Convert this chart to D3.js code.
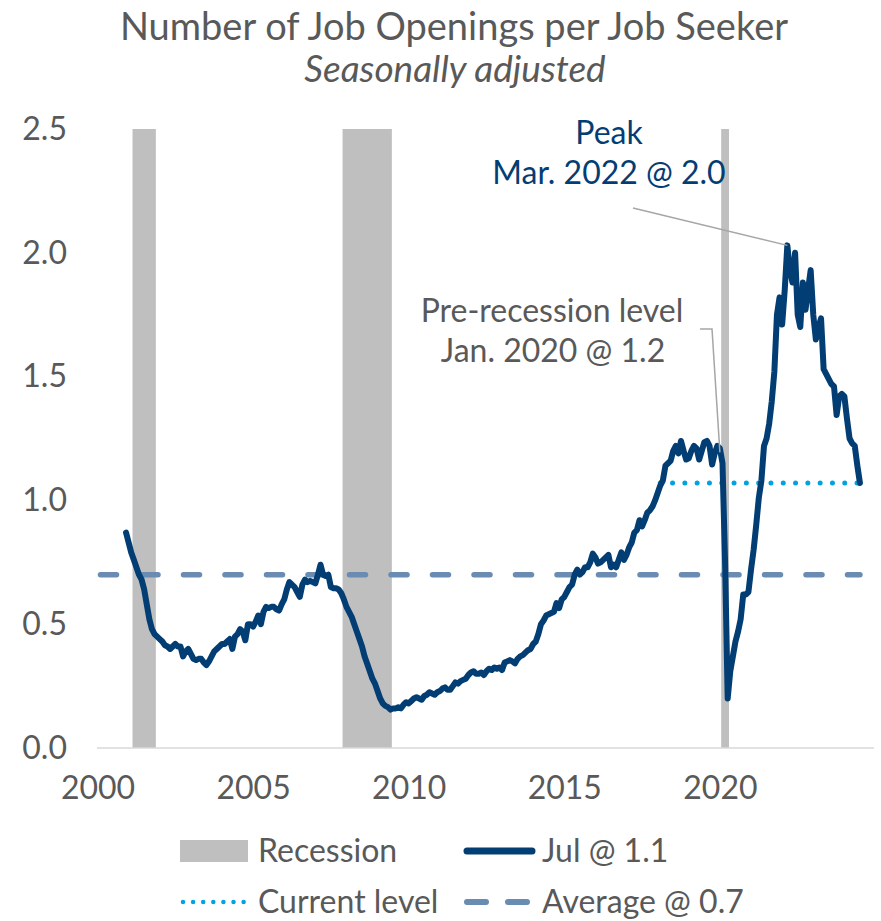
<!DOCTYPE html>
<html>
<head>
<meta charset="utf-8">
<script src="https://cdn.jsdelivr.net/npm/d3@7"></script>
<style>
  html, body { margin: 0; padding: 0; background: #ffffff; }
  svg { display: block; font-family: Lato, "Open Sans", sans-serif; }
</style>
</head>
<body>
<svg id="chart" width="881" height="921"></svg>
<script>
// Job openings per unemployed job seeker, monthly, seasonally adjusted.
const seriesStart = { year: 2000, month: 12 };
const ratio = [
  0.87,
  0.83, 0.79, 0.76, 0.73, 0.70, 0.68, 0.64, 0.58, 0.52, 0.48, 0.46, 0.45,          // 2001
  0.44, 0.43, 0.415, 0.41, 0.40, 0.41, 0.42, 0.41, 0.41, 0.37, 0.39, 0.40,        // 2002
  0.38, 0.36, 0.355, 0.36, 0.36, 0.345, 0.335, 0.35, 0.37, 0.39, 0.40, 0.41,      // 2003
  0.42, 0.42, 0.43, 0.44, 0.40, 0.45, 0.46, 0.48, 0.47, 0.435, 0.50, 0.50,        // 2004
  0.49, 0.51, 0.535, 0.50, 0.55, 0.57, 0.565, 0.57, 0.57, 0.56, 0.555, 0.58,      // 2005
  0.60, 0.64, 0.67, 0.66, 0.65, 0.63, 0.61, 0.66, 0.68, 0.67, 0.675, 0.67,        // 2006
  0.665, 0.70, 0.74, 0.70, 0.695, 0.70, 0.65, 0.645, 0.645, 0.64, 0.625, 0.60,    // 2007
  0.57, 0.55, 0.53, 0.50, 0.47, 0.44, 0.41, 0.37, 0.34, 0.31, 0.28, 0.26,         // 2008
  0.23, 0.20, 0.18, 0.17, 0.165, 0.155, 0.16, 0.16, 0.165, 0.16, 0.175, 0.185,    // 2009
  0.18, 0.19, 0.20, 0.205, 0.20, 0.195, 0.21, 0.215, 0.225, 0.22, 0.215, 0.225,   // 2010
  0.23, 0.24, 0.245, 0.235, 0.235, 0.25, 0.265, 0.26, 0.27, 0.275, 0.28, 0.295,   // 2011
  0.305, 0.31, 0.30, 0.30, 0.305, 0.295, 0.31, 0.32, 0.315, 0.325, 0.32, 0.325,   // 2012
  0.315, 0.345, 0.35, 0.355, 0.35, 0.342, 0.36, 0.37, 0.375, 0.385, 0.395, 0.40,  // 2013
  0.42, 0.43, 0.46, 0.50, 0.515, 0.535, 0.54, 0.545, 0.55, 0.585, 0.565, 0.60,    // 2014
  0.61, 0.63, 0.65, 0.66, 0.70, 0.72, 0.70, 0.71, 0.73, 0.73, 0.75, 0.785,        // 2015
  0.77, 0.745, 0.75, 0.76, 0.77, 0.78, 0.73, 0.74, 0.73, 0.76, 0.79, 0.76,        // 2016
  0.78, 0.81, 0.83, 0.87, 0.88, 0.92, 0.895, 0.92, 0.95, 0.96, 0.975, 1.00,       // 2017
  1.03, 1.06, 1.08, 1.14, 1.15, 1.16, 1.20, 1.22, 1.19, 1.24, 1.20, 1.165,        // 2018
  1.17, 1.20, 1.22, 1.21, 1.165, 1.20, 1.235, 1.24, 1.22, 1.145, 1.19, 1.22,      // 2019
  1.21, 1.15, 0.75, 0.20, 0.31, 0.37, 0.43, 0.47, 0.52, 0.62, 0.62, 0.63,         // 2020
  0.72, 0.80, 0.90, 1.01, 1.08, 1.22, 1.25, 1.31, 1.40, 1.52, 1.75, 1.82,         // 2021
  1.71, 1.85, 2.03, 1.93, 1.88, 2.00, 1.75, 1.70, 1.88, 1.77, 1.85, 1.93,         // 2022
  1.75, 1.65, 1.70, 1.735, 1.53, 1.51, 1.49, 1.47, 1.46, 1.345, 1.42, 1.43,       // 2023
  1.42, 1.33, 1.25, 1.23, 1.22, 1.14, 1.07                                         // 2024
];

// NBER recessions (first and last month)
const recessions = [
  { from: [2001, 3], to: [2001, 11] },
  { from: [2007, 12], to: [2009, 6] },
  { from: [2020, 2], to: [2020, 4] }
];

const averageLevel = 0.7;
const currentLevel = 1.07;
const currentLevelFrom = [2018, 2];

const xTicks = [2000, 2005, 2010, 2015, 2020];
const yTicks = [0, 0.5, 1.0, 1.5, 2.0, 2.5];

const peakPoint = { year: 2022, month: 3, value: 2.03 };
const preRecessionPoint = { year: 2020, month: 1, value: 1.21 };

const legendItems = ["Recession", "Jul @ 1.1", "Current level", "Average @ 0.7"];

// ---------------------------------------------------------------
const C = {
  navy: "#023e73",
  cyan: "#00a3e0",
  avg: "#6a8cb2",
  rec: "#bfbfbf",
  text: "#595959",
  axis: "#d9d9d9",
  leader: "#a6a6a6"
};
const FS = 32;

const toT = (y, m) => y + (m - 1) / 12;
const data = ratio.map((v, i) => {
  const idx = (seriesStart.month - 1) + i;
  const y = seriesStart.year + Math.floor(idx / 12);
  const m = (idx % 12) + 1;
  return { t: toT(y, m), v };
});

const svg = d3.select("#chart");

const x = d3.scaleLinear().domain([2000, 2025]).range([97.5, 875.5]);
const y = d3.scaleLinear().domain([0, 2.5]).range([748, 129]);
const halfMonth = (x(2001) - x(2000)) / 24;

// recession shading
svg.append("g").selectAll("rect").data(recessions).join("rect")
  .attr("x", d => x(toT(...d.from)) - halfMonth)
  .attr("width", d => x(toT(...d.to)) - x(toT(...d.from)) + 2 * halfMonth)
  .attr("y", y(2.5))
  .attr("height", y(0) - y(2.5))
  .attr("fill", C.rec);

// baseline
svg.append("line")
  .attr("x1", 97).attr("x2", 874)
  .attr("y1", y(0)).attr("y2", y(0))
  .attr("stroke", C.axis).attr("stroke-width", 1.5);

// y axis
const yAxis = svg.append("g")
  .attr("transform", `translate(97,0)`)
  .call(d3.axisLeft(y).tickValues(yTicks).tickFormat(d3.format(".1f")).tickSize(0).tickPadding(30));
yAxis.select(".domain").remove();
yAxis.selectAll("text")
  .attr("fill", C.text).attr("font-size", FS).attr("font-family", "Lato, sans-serif");

// x axis
const xAxis = svg.append("g")
  .attr("transform", `translate(0,${y(0)})`)
  .call(d3.axisBottom(x).tickValues(xTicks).tickFormat(d3.format("d")).tickSize(0).tickPadding(28));
xAxis.select(".domain").remove();
xAxis.selectAll("text")
  .attr("fill", C.text).attr("font-size", FS).attr("font-family", "Lato, sans-serif");

// average level
const lastT = data[data.length - 1].t;
svg.append("line")
  .attr("x1", x(2000) + 3).attr("x2", x(lastT))
  .attr("y1", y(averageLevel)).attr("y2", y(averageLevel))
  .attr("stroke", C.avg).attr("stroke-width", 5.5)
  .attr("stroke-linecap", "round")
  .attr("stroke-dasharray", "16 25.5");

// current level
svg.append("line")
  .attr("x1", x(toT(...currentLevelFrom))).attr("x2", x(lastT))
  .attr("y1", y(currentLevel)).attr("y2", y(currentLevel))
  .attr("stroke", C.cyan).attr("stroke-width", 5)
  .attr("stroke-linecap", "round")
  .attr("stroke-dasharray", "0 12.3");

// main series
svg.append("path")
  .datum(data)
  .attr("fill", "none")
  .attr("stroke", C.navy)
  .attr("stroke-width", 6)
  .attr("stroke-linejoin", "round")
  .attr("stroke-linecap", "round")
  .attr("d", d3.line().x(d => x(d.t)).y(d => y(d.v)));

// title
svg.append("text")
  .attr("x", 454).attr("y", 40)
  .attr("text-anchor", "middle")
  .attr("font-size", 38).attr("fill", C.text)
  .text("Number of Job Openings per Job Seeker");
svg.append("text")
  .attr("x", 455).attr("y", 82)
  .attr("text-anchor", "middle")
  .attr("font-size", 37).attr("font-style", "italic").attr("fill", C.text)
  .text("Seasonally adjusted");

// peak annotation
const pk = { x: x(toT(peakPoint.year, peakPoint.month)), y: y(peakPoint.value) };
svg.append("line")
  .attr("x1", 633).attr("y1", 208).attr("x2", pk.x).attr("y2", pk.y)
  .attr("stroke", C.leader).attr("stroke-width", 1.5);
svg.append("text")
  .attr("x", 609).attr("y", 144).attr("text-anchor", "middle")
  .attr("font-size", FS).attr("fill", C.navy).text("Peak");
svg.append("text")
  .attr("x", 609).attr("y", 184).attr("text-anchor", "middle")
  .attr("font-size", FS).attr("fill", C.navy)
  .text(`Mar. ${peakPoint.year} @ ${d3.format(".1f")(peakPoint.value)}`);

// pre-recession annotation
const pr = { x: x(toT(preRecessionPoint.year, preRecessionPoint.month)), y: y(preRecessionPoint.value) };
svg.append("polyline")
  .attr("points", `700,329 712,329 ${pr.x},${pr.y + 4}`)
  .attr("fill", "none").attr("stroke", C.leader).attr("stroke-width", 1.5);
svg.append("text")
  .attr("x", 552).attr("y", 322).attr("text-anchor", "middle")
  .attr("font-size", FS).attr("fill", C.text).text("Pre-recession level");
svg.append("text")
  .attr("x", 553).attr("y", 362).attr("text-anchor", "middle")
  .attr("font-size", FS).attr("fill", C.text)
  .text(`Jan. ${preRecessionPoint.year} @ ${d3.format(".1f")(preRecessionPoint.value)}`);

// legend
const lg = svg.append("g").attr("font-size", FS).attr("fill", C.text);
lg.append("rect").attr("x", 180).attr("y", 840).attr("width", 68).attr("height", 22).attr("fill", C.rec);
lg.append("text").attr("x", 258).attr("y", 862).text(legendItems[0]);
lg.append("line").attr("x1", 467).attr("x2", 532).attr("y1", 851).attr("y2", 851)
  .attr("stroke", C.navy).attr("stroke-width", 7).attr("stroke-linecap", "round");
lg.append("text").attr("x", 542).attr("y", 862).text(legendItems[1]);
lg.append("line").attr("x1", 183).attr("x2", 244).attr("y1", 902).attr("y2", 902)
  .attr("stroke", C.cyan).attr("stroke-width", 4.5).attr("stroke-linecap", "round")
  .attr("stroke-dasharray", "0 10.1");
lg.append("text").attr("x", 258).attr("y", 913).text(legendItems[2]);
lg.append("line").attr("x1", 467).attr("x2", 528).attr("y1", 902).attr("y2", 902)
  .attr("stroke", C.avg).attr("stroke-width", 6).attr("stroke-linecap", "round")
  .attr("stroke-dasharray", "19 22");
lg.append("text").attr("x", 542).attr("y", 913).text(legendItems[3]);
</script>
</body>
</html>
